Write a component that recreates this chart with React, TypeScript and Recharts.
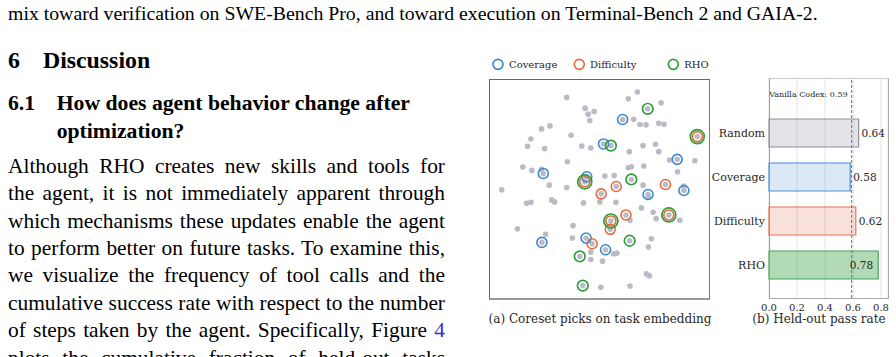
import React from "react";
import {
  ScatterChart,
  Scatter,
  XAxis,
  YAxis,
  BarChart,
  Bar,
  Cell,
  CartesianGrid,
  ReferenceLine,
  LabelList,
} from "recharts";

// 2-D task embedding (projection units)
const TASKS: [number, number][] = [
  [-98, 275], [113, 291], [86, 271], [184, 259], [-43, 243], [-16, 233], [-34, 225], [-29, 206], [102, 210], [121, 194],
  [139, 193], [177, 198], [193, 195], [-173, 181], [-148, 190], [-85, 162], [-205, 151], [-215, 129], [-164, 122], [-53, 130],
  [-26, 124], [130, 131], [167, 135], [177, 113], [89, 113], [-96, 83], [209, 88], [285, 86], [-229, 67], [-202, 57],
  [-173, 60], [86, 65], [95, 68], [132, 70], [233, 53], [16, 40], [44, 42], [-150, 13], [-98, 6], [130, 13],
  [-292, -1], [-218, -41], [-205, -38], [-143, -31], [-134, -37], [-48, -40], [1, -37], [49, -38], [125, -55], [160, -68],
  [169, -87], [240, -92], [91, -92], [-245, -117], [-79, -108], [-161, -134], [-81, -145], [155, -147], [146, -172], [-26, -187],
  [42, -192], [52, -190], [-26, -209], [9, -214], [140, -252], [149, -258], [4, -292], [91, -288], [252, 10], [146, -23],
  // picked by coverage
  [69, 209], [12, 136], [232, 90], [-168, 48], [-38, 38], [145, -15], [252, -3], [-172, -158], [-40, -145], [18, -180],
  // picked by difficulty
  [292, 158], [-44, 23], [5, -13], [50, 9], [197, 15], [79, -76], [207, -76], [34, -94], [32, -119], [-22, -162],
  // picked only by RHO
  [144, 241], [34, 131], [95, 30], [90, -153], [-59, -200], [-50, -287],
];

const COVERAGE_PICKS = [70, 71, 72, 73, 74, 75, 76, 77, 78, 79];
const DIFFICULTY_PICKS = [80, 81, 82, 83, 84, 85, 86, 87, 88, 89];
const RHO_PICKS = [90, 91, 80, 92, 81, 86, 87, 93, 94, 95];

const METHODS = ["Random", "Coverage", "Difficulty", "RHO"];
const PASS_RATE = [0.64, 0.58, 0.62, 0.78];
const VANILLA_CODEX = 0.59;
const PASS_TICKS = [0, 0.2, 0.4, 0.6, 0.8];

const BLUE = "#3b87d4";
const ORANGE = "#e9693f";
const GREEN = "#2f9e3b";
const INK = "#262626";

const BAR_FILL = ["rgba(160,165,175,0.3)", "rgba(74,144,208,0.2)", "rgba(232,112,79,0.2)", "rgba(63,163,74,0.4)"];
const BAR_STROKE = ["#8c919b", "#4a8fd3", "#e8714f", "#45a550"];

const SERIF = "'Liberation Serif', 'Times New Roman', serif";
const FIG_FONT = "'DejaVu Serif', serif";

const taskData = TASKS.map(([x, y], idx) => ({ x, y, idx }));
const pick = (ids: number[]) => ids.map((i) => taskData[i]);
const barData = METHODS.map((name, i) => ({ name, value: PASS_RATE[i] }));

const GrayDot = (props: any) => <circle cx={props.cx} cy={props.cy} r={2.8} fill="#b9bcc6" />;
const ring = (color: string, r: number) => (props: any) =>
  <circle cx={props.cx} cy={props.cy} r={r} fill="none" stroke={color} strokeWidth={1.6} />;
const RhoRing = (props: any) => {
  const shared = DIFFICULTY_PICKS.includes(props.payload?.idx);
  return <circle cx={props.cx} cy={props.cy} r={shared ? 7 : 5.3} fill="none" stroke={GREEN} strokeWidth={1.7} />;
};

const ValueLabel = (props: any) => {
  const { x, y, width, height, value } = props;
  const inside = value > 0.7;
  return (
    <text
      x={inside ? x + width - 5 : x + width + 3}
      y={y + height / 2}
      dy="0.35em"
      textAnchor={inside ? "end" : "start"}
      fontSize={10.5}
      fill={INK}
      fontFamily={FIG_FONT}
    >
      {Number(value).toFixed(2)}
    </text>
  );
};

const CodexLabel = (props: any) => {
  const vb = props.viewBox || {};
  return (
    <text x={vb.x - 4} y={vb.y + 16.3} dy="0.35em" textAnchor="end" fontSize={8} fill={INK} fontFamily={FIG_FONT}>
      Vanilla Codex: {VANILLA_CODEX}
    </text>
  );
};

const abs = (left: number, top: number, extra: React.CSSProperties = {}): React.CSSProperties => ({
  position: "absolute",
  left,
  top,
  ...extra,
});

const BODY = [
  "Although RHO creates new skills and tools for",
  "the agent, it is not immediately apparent through",
  "which mechanisms these updates enable the agent",
  "to perform better on future tasks. To examine this,",
  "we visualize the frequency of tool calls and the",
  "cumulative success rate with respect to the number",
  "of steps taken by the agent. Specifically, Figure",
  "plots the cumulative fraction of held-out tasks",
];

export default function App() {
  const bodyLine: React.CSSProperties = {
    width: 437,
    fontSize: 21.4,
    lineHeight: "27.4px",
    textAlign: "justify",
    textAlignLast: "justify",
    whiteSpace: "nowrap",
  };
  return (
    <div
      style={{
        position: "absolute",
        left: 0,
        top: 0,
        width: 896,
        height: 357,
        overflow: "hidden",
        background: "#fff",
        fontFamily: SERIF,
        color: "#000",
      }}
    >
      <div style={abs(8, 0, { fontSize: 19.8, lineHeight: "27.4px", whiteSpace: "nowrap" })}>
        mix toward verification on SWE-Bench Pro, and toward execution on Terminal-Bench 2 and GAIA-2.
      </div>

      <div style={abs(8, 46, { fontSize: 23.8, fontWeight: 700, lineHeight: "28px" })}>6</div>
      <div style={abs(43, 46, { fontSize: 23.8, fontWeight: 700, lineHeight: "28px" })}>Discussion</div>

      <div style={abs(8, 90, { fontSize: 21.7, fontWeight: 700, lineHeight: "27.7px" })}>6.1</div>
      <div style={abs(56.7, 90, { fontSize: 21.7, fontWeight: 700, lineHeight: "27.7px", whiteSpace: "nowrap" })}>
        How does agent behavior change after
        <br />
        optimization?
      </div>

      {BODY.map((t, i) => (
        <div key={i} style={abs(8, 152.8 + i * 27.4, bodyLine)}>
          {t}
          {i === 6 && <span style={{ color: "#2f2fcf" }}> 4</span>}
        </div>
      ))}

      {/* legend */}
      <svg style={abs(0, 54)} width={896} height={20}>
        {[
          { label: "Coverage", color: BLUE, cx: 498, tx: 509 },
          { label: "Difficulty", color: ORANGE, cx: 579.3, tx: 590 },
          { label: "RHO", color: GREEN, cx: 673.3, tx: 684.3 },
        ].map((l) => (
          <g key={l.label}>
            <circle cx={l.cx} cy={10.3} r={5} fill="none" stroke={l.color} strokeWidth={1.7} />
            <text x={l.tx} y={10.3} dy="0.35em" fontSize={10} fill={INK} fontFamily={FIG_FONT}>
              {l.label}
            </text>
          </g>
        ))}
      </svg>

      {/* (a) coreset picks on the task embedding */}
      <div style={abs(489, 79)}>
        <ScatterChart width={221} height={221} margin={{ top: 0, right: 0, bottom: 0, left: 0 }}>
          <XAxis type="number" dataKey="x" domain={[-330, 330]} hide />
          <YAxis type="number" dataKey="y" domain={[-330, 330]} hide />
          <Scatter data={taskData} shape={GrayDot} isAnimationActive={false} />
          <Scatter data={pick(COVERAGE_PICKS)} shape={ring(BLUE, 5)} isAnimationActive={false} />
          <Scatter data={pick(DIFFICULTY_PICKS)} shape={ring(ORANGE, 5)} isAnimationActive={false} />
          <Scatter data={pick(RHO_PICKS)} shape={RhoRing} isAnimationActive={false} />
        </ScatterChart>
      </div>
      <div
        style={abs(489, 79, {
          width: 221,
          height: 221,
          boxSizing: "border-box",
          borderLeft: "1px solid #666",
          borderTop: "1px solid #666",
          borderRight: "1px solid #777",
          borderBottom: "2px solid #999",
        })}
      />

      {/* (b) held-out pass rate */}
      <div style={abs(699, 78)}>
        <BarChart
          width={190}
          height={244}
          layout="vertical"
          data={barData}
          margin={{ top: 0, right: 1, bottom: 0, left: 0 }}
        >
          <CartesianGrid horizontal={false} stroke="#e2e2e2" />
          <XAxis
            type="number"
            domain={[0, 0.85]}
            ticks={PASS_TICKS}
            interval={0}
            tickFormatter={(v: number) => v.toFixed(1)}
            axisLine={false}
            tickLine={false}
            tickSize={4}
            tickMargin={2}
            height={24}
            tick={{ fontSize: 10, fill: INK, fontFamily: FIG_FONT }}
          />
          <YAxis
            type="category"
            dataKey="name"
            width={70}
            axisLine={false}
            tickLine={false}
            tickSize={2}
            tickMargin={2}
            padding={{ top: 33, bottom: 11 }}
            tick={{ fontSize: 11, fill: INK, fontFamily: FIG_FONT }}
          />
          <Bar dataKey="value" barSize={28} isAnimationActive={false}>
            {barData.map((d, i) => (
              <Cell key={d.name} fill={BAR_FILL[i]} stroke={BAR_STROKE[i]} strokeWidth={1.2} />
            ))}
            <LabelList dataKey="value" content={ValueLabel} />
          </Bar>
          <ReferenceLine x={VANILLA_CODEX} stroke="#777" strokeDasharray="3 2" label={<CodexLabel />} />
        </BarChart>
      </div>
      <div
        style={abs(769, 78, {
          width: 120,
          height: 221,
          boxSizing: "border-box",
          borderLeft: "1px solid #999",
          borderTop: "1px solid #ccc",
          borderRight: "1px solid #aaa",
          borderBottom: "1px solid #aaa",
        })}
      />

      <div style={abs(450, 312, { width: 300, textAlign: "center", fontFamily: FIG_FONT, fontSize: 12, lineHeight: "14px", color: INK })}>
        (a) Coreset picks on task embedding
      </div>
      <div style={abs(669, 312, { width: 300, textAlign: "center", fontFamily: FIG_FONT, fontSize: 12, lineHeight: "14px", color: INK })}>
        (b) Held-out pass rate
      </div>
    </div>
  );
}
